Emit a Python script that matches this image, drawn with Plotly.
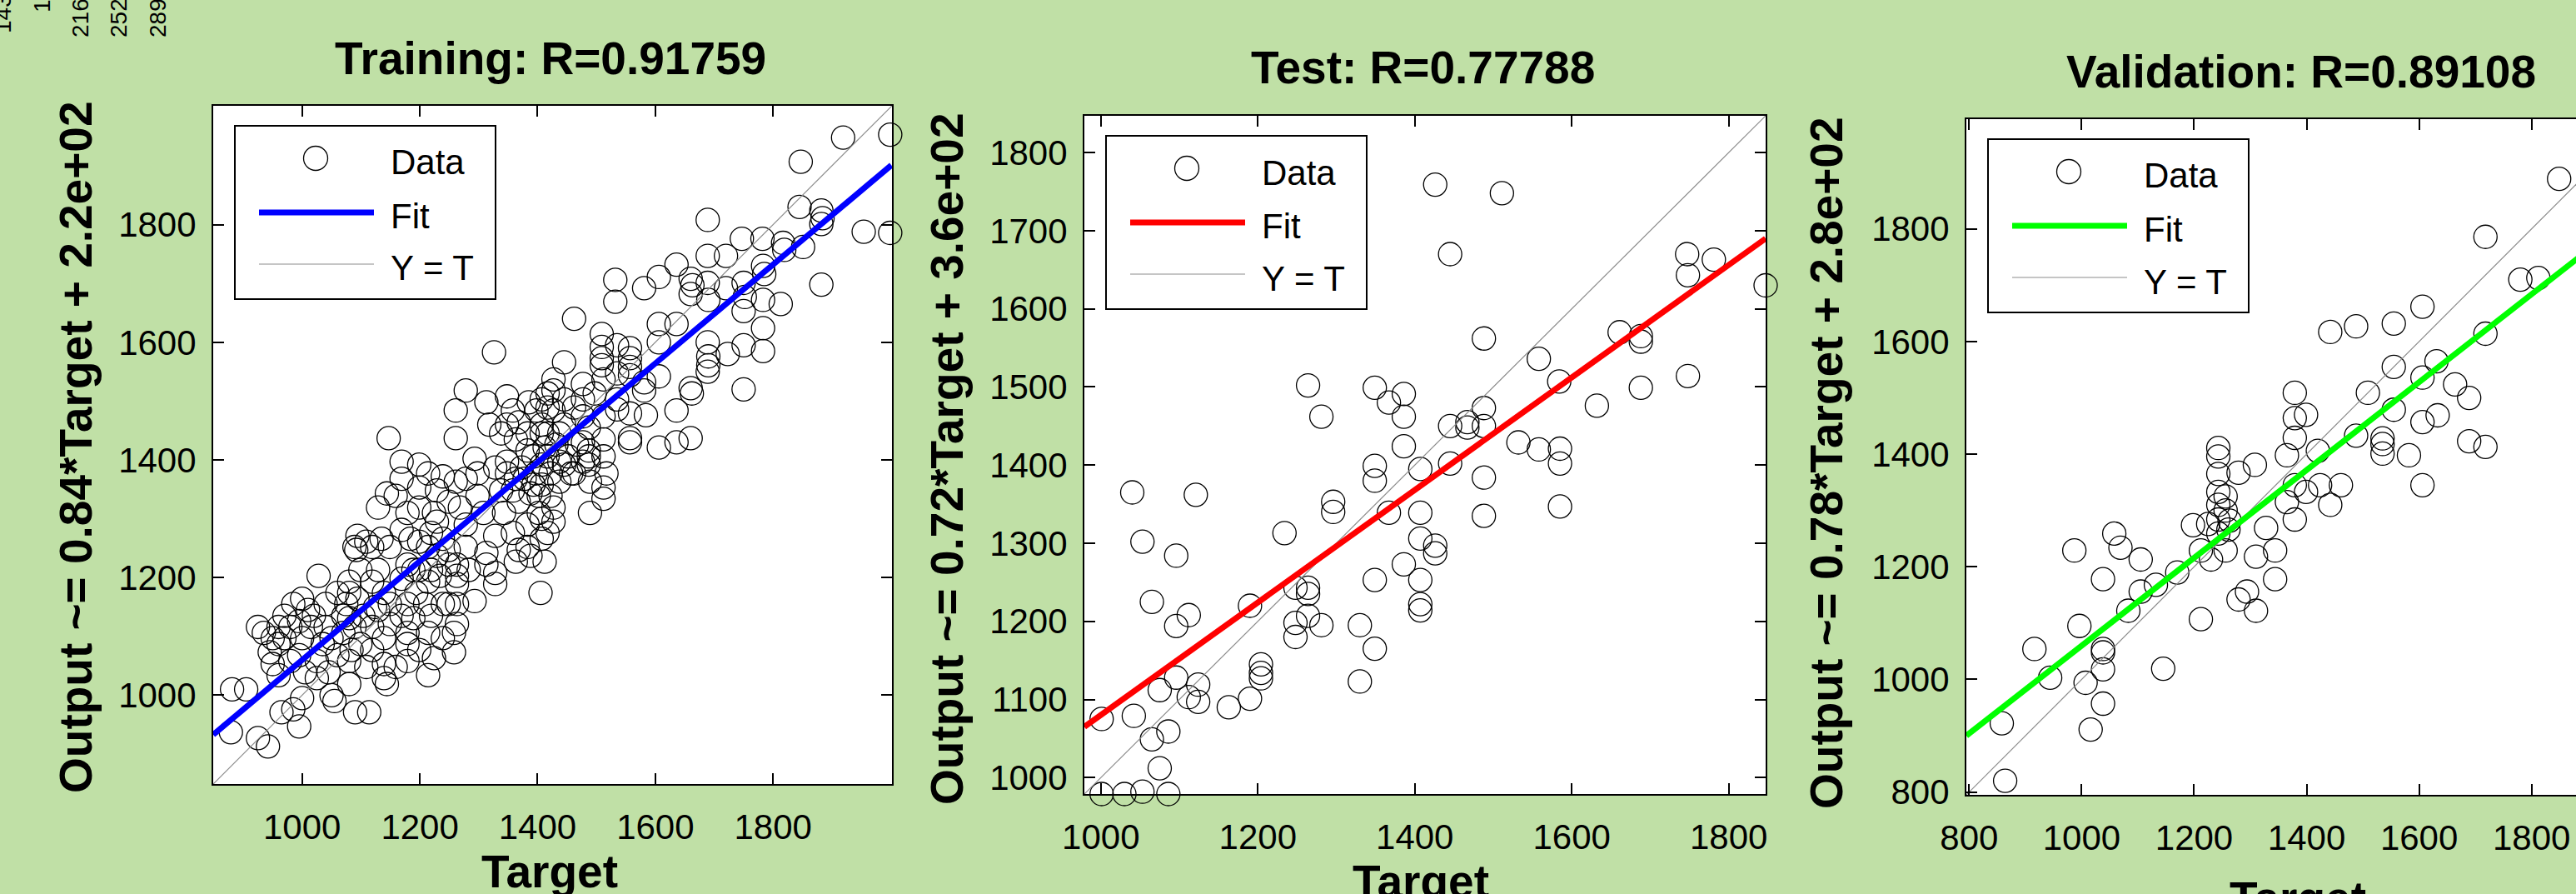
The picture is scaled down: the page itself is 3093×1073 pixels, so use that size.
import plotly.graph_objects as go

W, H = 3093, 1073
BG = "rgb(192,224,166)"
FONT = "Liberation Sans, Arial, sans-serif"

# ---------------- data ----------------
train_target = [1999, 1919, 1847, 1845, 1882, 1884, 1882, 1954, 1999, 1689, 1747, 1782, 1817, 1819, 1851,
                1636, 1720, 1689, 1783, 1785, 1882, 1606, 1532, 1660, 1663, 1689, 1720, 1750, 1752, 1581,
                1532, 1660, 1690, 1783, 1813, 1750, 1462, 1606, 1606, 1636, 1509, 1509, 1535, 1557, 1689,
                1750, 1783, 1783, 1690, 1690, 1723, 1689, 1326, 1557, 1557, 1557, 1509, 1509, 1535, 1606,
                1581, 1581, 1445, 1427, 1477, 1512, 1660, 1662, 1750, 1636, 1584, 1557, 1535, 1535, 1497,
                1477, 1427, 1407, 1278, 1261, 1313, 1348, 1358, 1385, 1417, 1445, 1462, 1477, 1512, 1557,
                1557, 1606, 1636, 1660, 1147, 1261, 1318, 1348, 1338, 1368, 1363, 1383, 1407, 1417, 1432,
                1445, 1487, 1477, 1512, 1487, 1487, 1487, 1512, 1517, 1512, 1512, 1489, 1489, 1462, 1445,
                1437, 1417, 1407, 1397, 1407, 1422, 1388, 1368, 1363, 1348, 1328, 1298, 1293, 1278, 1261,
                1239, 1214, 1199, 1169, 1169, 1199, 1229, 1249, 1268, 1298, 1308, 1343, 1358, 1383, 1407,
                1427, 1402, 1383, 1388, 1407, 1427, 1412, 1405, 1368, 1363, 1328, 1313, 1313, 1328, 1328,
                1293, 1263, 1263, 1263, 1249, 1239, 1219, 1214, 1199, 1184, 1169, 1135, 1119, 1094, 1092,
                1129, 1144, 1159, 1179, 1199, 1224, 1229, 1278, 1249, 1229, 1219, 1234, 1214, 1199, 1179,
                1169, 1194, 1179, 1169, 1189, 1179, 1214, 1224, 1214, 1258, 1263, 1249, 1263, 1149, 1149,
                1129, 1139, 1119, 1104, 1094, 1075, 1070, 1089, 1099, 1084, 1109, 1139, 1144, 1159, 1139,
                1119, 1080, 1080, 1060, 1050, 1055, 1045, 1025, 1025, 1035, 1015, 1028, 1010, 1000, 985,
                995, 1000, 995, 1005, 1000, 995, 980, 970, 960, 950, 945, 960, 970, 980, 1020,
                1040, 1050, 1070, 1080, 965, 985, 960, 950, 935, 925, 1090, 1114, 1080, 1080, 1099,
                1089, 1109, 1119, 1139, 1219, 1179, 1199, 879, 881, 905, 925, 942,
                1398, 1407, 1417, 1427, 1437, 1412, 1422, 1437, 1452, 1457, 1467, 1477, 1402, 1417, 1393,
                1383, 1373, 1358, 1348, 1338, 1378, 1393,
                1278, 1283, 1239, 1209, 1189, 1129, 1149, 1124, 1060, 1040, 1179, 1239, 1258]
train_output = [1953, 1948, 1907, 1830, 1824, 1811, 1801, 1788, 1786, 1808, 1776, 1776, 1769, 1757, 1762,
                1732, 1747, 1747, 1730, 1716, 1698, 1711, 1706, 1708, 1697, 1701, 1692, 1701, 1677, 1692,
                1669, 1682, 1672, 1672, 1665, 1653, 1640, 1631, 1600, 1631, 1614, 1592, 1595, 1590, 1600,
                1595, 1585, 1624, 1576, 1561, 1580, 1550, 1583, 1573, 1558, 1544, 1573, 1561, 1547, 1542,
                1532, 1518, 1566, 1537, 1529, 1537, 1522, 1513, 1520, 1484, 1476, 1479, 1486, 1503, 1513,
                1503, 1518, 1503, 1518, 1484, 1498, 1508, 1484, 1498, 1489, 1503, 1489, 1474, 1474, 1430,
                1437, 1421, 1430, 1437, 1437, 1437, 1460, 1460, 1445, 1464, 1435, 1445, 1460, 1445, 1426,
                1460, 1455, 1430, 1435, 1416, 1406, 1392, 1406, 1377, 1353, 1334, 1363, 1310, 1377, 1392,
                1363, 1406, 1392, 1377, 1358, 1339, 1343, 1329, 1368, 1397, 1387, 1377, 1402, 1368, 1363,
                1372, 1377, 1392, 1397, 1368, 1353, 1348, 1329, 1319, 1339, 1310, 1310, 1276, 1290, 1300,
                1319, 1339, 1252, 1237, 1266, 1295, 1227, 1174, 1247, 1227, 1271, 1242, 1222, 1208, 1189,
                1160, 1189, 1203, 1222, 1247, 1266, 1276, 1252, 1261, 1266, 1281, 1266, 1252, 1271, 1247,
                1319, 1343, 1339, 1310, 1319, 1310, 1295, 1290, 1222, 1237, 1213, 1203, 1193, 1213, 1222,
                1198, 1174, 1155, 1135, 1131, 1106, 1106, 1063, 1034, 1106, 1121, 1155, 1155, 1155, 1121,
                1145, 1097, 1116, 1135, 1164, 1155, 1135, 1116, 1087, 1077, 1048, 1029, 1019, 1048, 1053,
                1077, 1019, 1058, 1068, 1000, 990, 1039, 1058, 1029, 1087, 1116, 1203, 1145, 1164, 1155,
                1126, 1097, 1068, 1039, 995, 947, 1058, 1097, 1116, 1097, 1073, 1087, 1135, 1116, 1135,
                1116, 1097, 1106, 1131, 971, 976, 1034, 1053, 1106, 1116, 971, 971, 1174, 1193, 1213,
                1252, 1261, 1193, 1174, 1135, 1087, 1077, 937, 1010, 1010, 927, 913,
                1484, 1445, 1513, 1484, 1445, 1421, 1377, 1397, 1406, 1377, 1426, 1397, 1310, 1276, 1406,
                1416, 1387, 1348, 1377, 1348, 1368, 1358,
                1252, 1213, 1155, 1155, 1213, 1213, 1252, 1150, 1174, 1155, 1058, 1097, 1073]

test_target = [1426, 1511, 1445, 1747, 1748, 1781, 1847, 1488, 1661, 1688, 1688, 1558, 1584, 1688, 1748,
               1632, 1264, 1349, 1367, 1386, 1386, 1281, 1488, 1488, 1445, 1467, 1467, 1532, 1558, 1585,
               1585, 1585, 1386, 1445, 1407, 1349, 1349, 1488, 1488, 1367, 1407, 1296, 1296, 1407, 1426,
               1426, 1234, 1386, 1407, 1349, 1407, 1407, 1248, 1264, 1264, 1190, 1248, 1248, 1264, 1281,
               1330, 1349, 1330, 1204, 1204, 1204, 1190, 1163, 1040, 1121, 1053, 1096, 1065, 1112, 1096,
               1096, 1075, 1112, 1124, 1124, 1001, 1042, 1065, 1086, 1075, 1001, 1030, 1053, 1086]
test_output = [1759, 1748, 1670, 1670, 1643, 1663, 1630, 1562, 1570, 1565, 1558, 1536, 1507, 1499, 1514,
               1476, 1502, 1499, 1480, 1491, 1462, 1462, 1473, 1450, 1450, 1455, 1448, 1429, 1420, 1421,
               1402, 1347, 1424, 1402, 1395, 1399, 1380, 1384, 1335, 1339, 1339, 1353, 1340, 1306, 1297,
               1287, 1313, 1273, 1253, 1253, 1222, 1214, 1243, 1243, 1235, 1220, 1198, 1180, 1207, 1195,
               1195, 1165, 1123, 1145, 1134, 1127, 1101, 1090, 1365, 1362, 1302, 1284, 1225, 1208, 1194,
               1128, 1112, 1103, 1119, 1097, 1075, 1079, 1049, 1059, 1012, 979, 979, 982, 979]

val_target = [1849, 1718, 1780, 1812, 1718, 1606, 1442, 1488, 1555, 1555, 1631, 1606, 1664, 1689, 1509,
              1555, 1606, 1633, 1488, 1689, 1718, 1535, 1535, 1535, 1582, 1606, 1379, 1379, 1399, 1379,
              1365, 1420, 1308, 1279, 1379, 1399, 1424, 1461, 1442, 1365, 1379, 1243, 1243, 1243, 1243,
              1256, 1243, 1256, 1263, 1243, 1225, 1198, 1243, 1261, 1256, 1212, 1230, 1328, 1344, 1310,
              1344, 1279, 1294, 1310, 1212, 1170, 1132, 1105, 1105, 1083, 1069, 1058, 987, 1038, 996,
              916, 1038, 1038, 1038, 1145, 944, 1007, 1038, 1016, 791, 858, 864]
val_output = [1889, 1786, 1710, 1713, 1614, 1662, 1617, 1627, 1632, 1555, 1565, 1536, 1524, 1500, 1509,
              1479, 1457, 1469, 1433, 1423, 1413, 1428, 1418, 1401, 1398, 1345, 1509, 1464, 1470, 1429,
              1398, 1406, 1381, 1367, 1345, 1333, 1345, 1345, 1310, 1315, 1284, 1411, 1396, 1365, 1333,
              1325, 1310, 1300, 1282, 1284, 1276, 1274, 1259, 1266, 1229, 1229, 1213, 1269, 1229, 1218,
              1178, 1142, 1156, 1122, 1107, 1190, 1168, 1156, 1213, 1122, 1234, 1259, 1229, 1178, 1095,
              1054, 1054, 1048, 1018, 1019, 1003, 994, 957, 911, 993, 922, 820]

# regression lines (end points) and axis limits
train_fit_x, train_fit_y = [849, 2001], [933, 1901]
test_fit_x, test_fit_y = [979, 1847], [1065, 1690]
val_fit_x, val_fit_y = [795, 1995], [900, 1836]
train_lim = [849, 2002]
test_lim = [979, 1847]
val_lim = [795, 1995]
val_visible_x = [795, 1879]

titles = ["Training: R=0.91759", "Test: R=0.77788", "Validation: R=0.89108"]
ylabels = ["Output ~= 0.84*Target + 2.2e+02",
           "Output ~= 0.72*Target + 3.6e+02",
           "Output ~= 0.78*Target + 2.8e+02"]
xlabel = "Target"
legend_labels = ["Data", "Fit", "Y = T"]
fit_colors = ["rgb(0,0,255)", "rgb(255,0,0)", "rgb(0,255,0)"]
train_ticks = [1000, 1200, 1400, 1600, 1800]
test_xticks = [1000, 1200, 1400, 1600, 1800]
test_yticks = [1000, 1100, 1200, 1300, 1400, 1500, 1600, 1700, 1800]
val_ticks = [800, 1000, 1200, 1400, 1600, 1800]
corner_labels = ["143", "180", "216", "252", "289"]

# ---------------- layout geometry (pixels) ----------------
panels = [  # left, top, right, bottom
    (256, 127, 1071, 941),
    (1302, 139, 2120, 953),
    (2361, 143, 3093, 954),
]


def px(x):
    return x / W


def py(y):
    return 1 - y / H


fig = go.Figure()

datasets = [
    (train_target, train_output, train_fit_x, train_fit_y, train_lim),
    (test_target, test_output, test_fit_x, test_fit_y, test_lim),
    (val_target, val_output, val_fit_x, val_fit_y, val_lim),
]

for i, (tx, ty, fx, fy, lim) in enumerate(datasets):
    suf = "" if i == 0 else str(i + 1)
    fig.add_trace(go.Scatter(
        x=tx, y=ty, mode="markers", xaxis="x" + suf, yaxis="y" + suf,
        marker=dict(symbol="circle-open", size=28, color="black", line=dict(width=1.3, color="black")),
        cliponaxis=False, showlegend=False, hoverinfo="skip"))
    fig.add_trace(go.Scatter(
        x=lim, y=lim, mode="lines", xaxis="x" + suf, yaxis="y" + suf,
        line=dict(color="rgb(140,140,140)", width=1.2), showlegend=False, hoverinfo="skip"))
    fig.add_trace(go.Scatter(
        x=fx, y=fy, mode="lines", xaxis="x" + suf, yaxis="y" + suf,
        line=dict(color=fit_colors[i], width=7), showlegend=False, hoverinfo="skip"))

tickfont = dict(family=FONT, size=42, color="black")
axis_common = dict(showgrid=False, zeroline=False, showline=True, linecolor="black", linewidth=2,
                   ticks="inside", ticklen=13, tickwidth=2, tickcolor="black", tickfont=tickfont,
                   automargin=False)

ranges_x = [train_lim, test_lim, val_visible_x]
ranges_y = [train_lim, test_lim, val_lim]
xt = [train_ticks, test_xticks, val_ticks]
yt = [train_ticks, test_yticks, val_ticks]

layout = {}
for i, (l, t, r, b) in enumerate(panels):
    suf = "" if i == 0 else str(i + 1)
    layout["xaxis" + suf] = dict(axis_common, domain=[px(l), px(r)], range=ranges_x[i],
                                 anchor="y" + suf, tickvals=xt[i], mirror="ticks",
                                 ticklabelstandoff=14)
    layout["yaxis" + suf] = dict(axis_common, domain=[py(b), py(t)], range=ranges_y[i],
                                 anchor="x" + suf, tickvals=yt[i],
                                 mirror=("ticks" if i < 2 else False), ticklabelstandoff=10)

shapes = []
annotations = []

# legends drawn in MATLAB style
for i, (l, t, r, b) in enumerate(panels):
    bx0, by0, bx1, by1 = l + 26, t + 24, l + 339, t + 232
    shapes.append(dict(type="rect", xref="paper", yref="paper", x0=px(bx0), x1=px(bx1),
                       y0=py(by1), y1=py(by0), line=dict(color="black", width=2),
                       fillcolor="white", layer="above"))
    cx, cy, rr = l + 123, t + 63, 14.5
    shapes.append(dict(type="circle", xref="paper", yref="paper", x0=px(cx - rr), x1=px(cx + rr),
                       y0=py(cy + rr), y1=py(cy - rr), line=dict(color="black", width=1.3),
                       layer="above"))
    shapes.append(dict(type="line", xref="paper", yref="paper", x0=px(l + 55), x1=px(l + 193),
                       y0=py(t + 128), y1=py(t + 128), line=dict(color=fit_colors[i], width=7),
                       layer="above"))
    shapes.append(dict(type="line", xref="paper", yref="paper", x0=px(l + 55), x1=px(l + 193),
                       y0=py(t + 190), y1=py(t + 190), line=dict(color="rgb(140,140,140)", width=1.2),
                       layer="above"))
    for k, lab in enumerate(legend_labels):
        annotations.append(dict(text=lab, xref="paper", yref="paper", x=px(l + 211),
                                y=py(t + [68, 132, 195][k]), xanchor="left", yanchor="middle",
                                showarrow=False, font=dict(family=FONT, size=42, color="black")))

title_pos = [(661, 70), (1708, 81), (2763, 86)]
ylab_pos = [(91, 537), (1137, 551), (2193, 556)]
xlab_pos = [(660, 1046), (1706, 1058), (2759, 1078)]
bold = dict(family=FONT, size=55, color="black", weight="bold")
for i in range(3):
    annotations.append(dict(text=titles[i], xref="paper", yref="paper", x=px(title_pos[i][0]),
                            y=py(title_pos[i][1]), xanchor="center", yanchor="middle",
                            showarrow=False, font=bold))
    annotations.append(dict(text=ylabels[i], xref="paper", yref="paper", x=px(ylab_pos[i][0]),
                            y=py(ylab_pos[i][1]), xanchor="center", yanchor="middle", textangle=-90,
                            showarrow=False, font=bold))
    annotations.append(dict(text=xlabel, xref="paper", yref="paper", x=px(xlab_pos[i][0]),
                            y=py(xlab_pos[i][1]), xanchor="center", yanchor="middle",
                            showarrow=False, font=bold))

corner_pos = [(4, 17), (50, -8), (96, 22), (142, 22), (189, 22)]
for lab, (cx, cy) in zip(corner_labels, corner_pos):
    annotations.append(dict(text=lab, xref="paper", yref="paper", x=px(cx), y=py(cy),
                            xanchor="center", yanchor="middle", textangle=-90, showarrow=False,
                            font=dict(family=FONT, size=28, color="black")))

fig.update_layout(
    width=W, height=H, autosize=False,
    margin=dict(l=0, r=0, t=0, b=0, pad=0),
    paper_bgcolor=BG, plot_bgcolor="white",
    showlegend=False,
    shapes=shapes, annotations=annotations,
    **layout,
)

fig.write_html("out.html")
